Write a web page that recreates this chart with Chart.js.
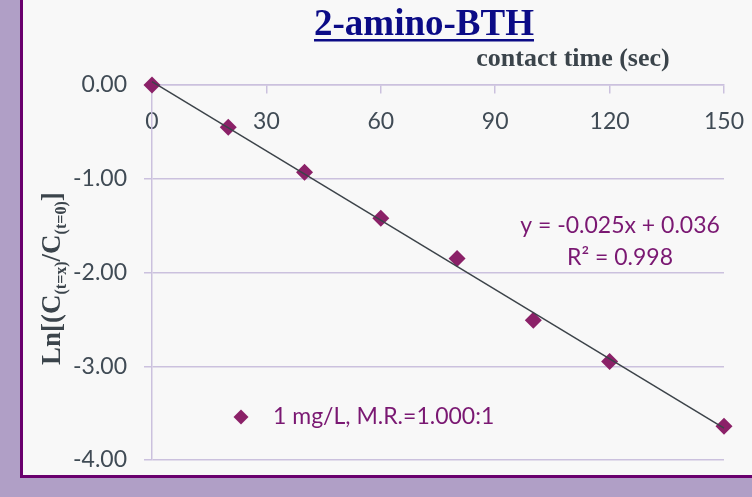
<!DOCTYPE html>
<html>
<head>
<meta charset="utf-8">
<script src="https://cdn.jsdelivr.net/npm/chart.js@4"></script>
<style>
  html, body { margin: 0; padding: 0; background: #b09fc6; }
  #frame {
    position: absolute; left: 20px; top: 0;
    width: 729px; height: 475px;
    background: #f8f8f8;
    border-left: 3px solid #6a006e;
    border-bottom: 3px solid #6a006e;
  }
  canvas { display: block; }
</style>
</head>
<body>
<div id="frame"><canvas id="chart" width="729" height="475"></canvas></div>
<script>
// contact time (sec)
var times = [0, 20, 40, 60, 80, 100, 120, 150]
// Ln[C(t=x)/C(t=0)]
var lnRatio = [0, -0.45, -0.93, -1.42, -1.85, -2.51, -2.95, -3.64]
// Excel linear trendline, ends
var trendX = [0, 150]
var trendY = [0.037, -3.66]
var xTicks = [0, 30, 60, 90, 120, 150]
var yTicks = [0, -1, -2, -3, -4]

var seriesLabel = '1 mg/L, M.R.=1.000:1'
var equation = 'y = -0.025x + 0.036'
var rSquared = 'R² = 0.998'

var markerColor = '#8b2168'
var textPurple = '#7a1872'
var tickColor = '#404b55'
var gridColor = '#cbc1de'
var sansFont = 'Lato'
var serifFont = '"Liberation Serif", "DejaVu Serif", serif'

function points(xs, ys) {
  return xs.map((x, i) => ({x: x, y: ys[i]}))
}

// titles, y label with subscripts, legend and equation text
const annotations = {
  id: 'annotations',
  afterDraw(chart) {
    const ctx = chart.ctx
    ctx.save()

    // main title, underlined
    ctx.font = 'bold 37px ' + serifFont
    ctx.fillStyle = '#0b0b86'
    ctx.textAlign = 'center'
    ctx.textBaseline = 'alphabetic'
    let title = '2-amino-BTH'
    let cx = 401
    ctx.fillText(title, cx, 35)
    let tw = ctx.measureText(title).width
    ctx.fillRect(cx - tw / 2, 39, tw, 2.5)

    // x axis title
    ctx.font = 'bold 26px ' + serifFont
    ctx.fillStyle = '#3b444b'
    ctx.fillText('contact time (sec)', 550, 66)

    // y axis title, rotated, with subscripts
    ctx.translate(37, 365)
    ctx.rotate(-Math.PI / 2)
    ctx.textAlign = 'left'
    let parts = [
      ['Ln[(C', 27, 0],
      ['(t=x)', 16, 6],
      ['/C', 27, 0],
      ['(t=0)', 16, 6],
      [']', 27, 0]
    ]
    let px = 0
    parts.forEach(p => {
      ctx.font = 'bold ' + p[1] + 'px ' + serifFont
      ctx.fillText(p[0], px, p[2])
      px += ctx.measureText(p[0]).width
    })
    ctx.setTransform(1, 0, 0, 1, 0, 0)

    // legend inside the plot
    let ly = 417
    ctx.fillStyle = markerColor
    Chart.helpers.drawPoint(ctx, {pointStyle: 'rectRot', radius: 7.5, rotation: 0, borderWidth: 0},
      218, ly)
    ctx.font = '23px ' + sansFont
    ctx.fillStyle = textPurple
    ctx.textAlign = 'left'
    ctx.textBaseline = 'middle'
    ctx.fillText(seriesLabel, 250, ly)

    // trendline equation
    ctx.textAlign = 'center'
    ctx.textBaseline = 'alphabetic'
    ctx.fillText(equation, 597, 233)
    ctx.fillText(rSquared, 597, 265)
    ctx.restore()
  }
}

new Chart(document.getElementById('chart'), {
  type: 'scatter',
  data: {
    datasets: [
      {
        label: 'trend',
        type: 'line',
        data: points(trendX, trendY),
        borderColor: '#3c4349',
        borderWidth: 1.5,
        pointRadius: 0,
        clip: false,
        order: 0
      },
      {
        label: seriesLabel,
        data: points(times, lnRatio),
        pointStyle: 'rectRot',
        pointRadius: 8.5,
        pointHoverRadius: 8.5,
        backgroundColor: markerColor,
        borderWidth: 0,
        clip: false,
        order: 1
      }
    ]
  },
  options: {
    responsive: false,
    animation: false,
    layout: { padding: { top: 85, right: 28, bottom: 15, left: 0 } },
    plugins: {
      legend: { display: false },
      title: { display: false },
      tooltip: { enabled: false }
    },
    scales: {
      x: {
        type: 'linear',
        position: { y: 0 },
        min: 0,
        max: 150,
        afterBuildTicks: s => { s.ticks = xTicks.map(v => ({value: v})) },
        // the axis sits on the top edge of the plot, it takes no layout room
        afterFit: s => { s.height = 0; s.paddingLeft = 0; s.paddingRight = 0 },
        grid: { drawOnChartArea: false, drawTicks: true, tickLength: 8, color: gridColor, lineWidth: 1.5 },
        border: { display: true, color: gridColor, width: 1.5 },
        ticks: { color: tickColor, font: { family: sansFont, size: 23 }, padding: 15, maxRotation: 0 }
      },
      y: {
        type: 'linear',
        min: -4,
        max: 0,
        afterBuildTicks: s => { s.ticks = yTicks.map(v => ({value: v})) },
        afterFit: s => { s.width = 129; s.paddingTop = 0; s.paddingBottom = 0 },
        grid: { color: gridColor, lineWidth: 1.5, tickLength: 8 },
        border: { display: true, color: gridColor, width: 1.5 },
        ticks: {
          color: tickColor,
          font: { family: sansFont, size: 23 },
          padding: 17,
          callback: v => v.toFixed(2)
        }
      }
    }
  },
  plugins: [annotations]
})
</script>
</body>
</html>
